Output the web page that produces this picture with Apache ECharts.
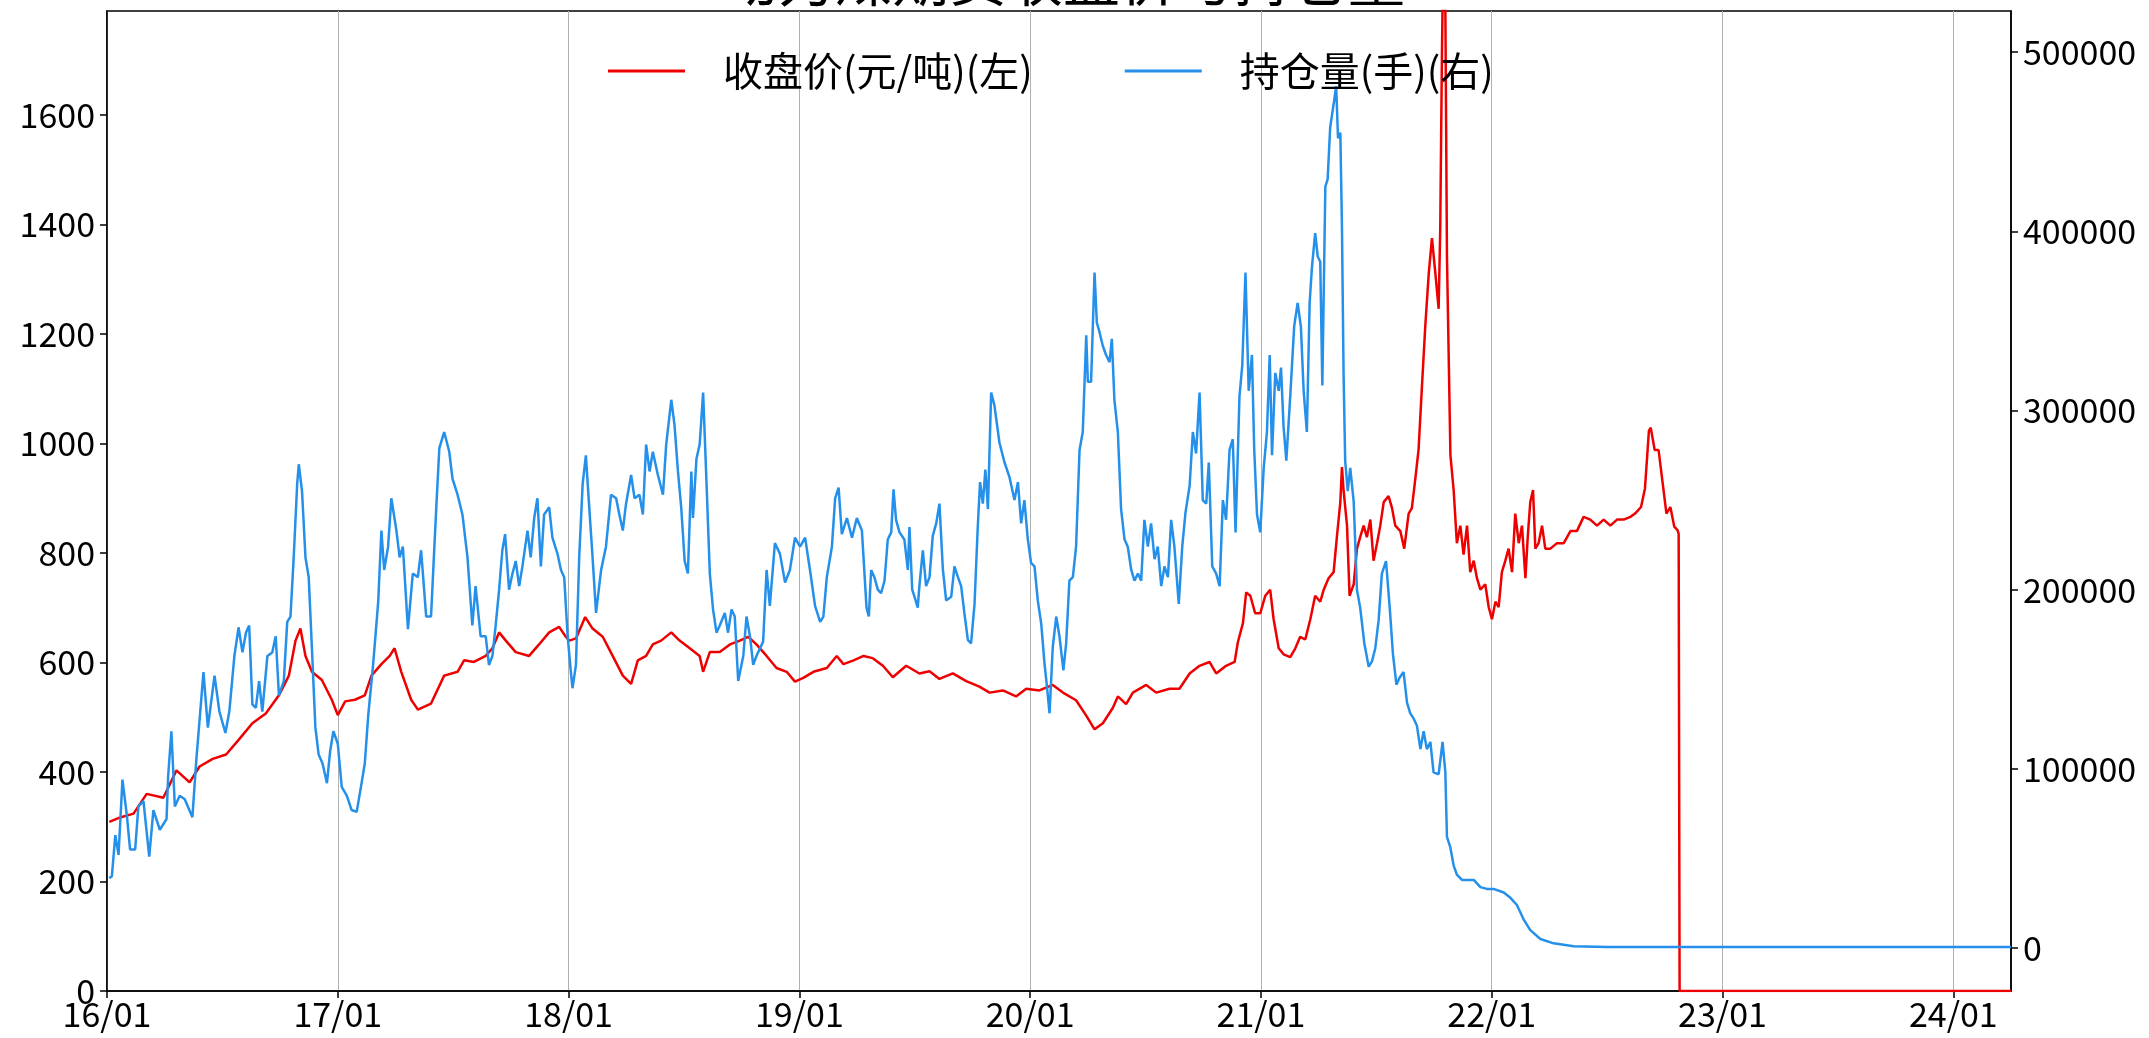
<!DOCTYPE html>
<html><head><meta charset="utf-8">
<script src="https://cdn.jsdelivr.net/npm/echarts@6/dist/echarts.min.js"></script>
<style>html,body{margin:0;padding:0;background:#fff}#c{width:2149px;height:1038px}</style>
</head><body><div id="c"></div>
<script>
const titleText = '动力煤期货收盘价与持仓量';
const seriesNames = ['收盘价(元/吨)(左)', '持仓量(手)(右)'];
const yearTicks = [2016, 2017, 2018, 2019, 2020, 2021, 2022, 2023, 2024];
const leftTicks = [0, 200, 400, 600, 800, 1000, 1200, 1400, 1600];
const rightTicks = [0, 100000, 200000, 300000, 400000, 500000];

// [decimal year, 收盘价 元/吨]
const closePrice = [
[2016.010,309],[2016.057,317],[2016.115,324],[2016.172,360],[2016.244,353],[2016.301,403],[2016.358,381],[2016.401,410],[2016.458,424],[2016.516,432],[2016.573,460],[2016.630,489],[2016.688,507],[2016.745,540],[2016.788,576],[2016.817,640],[2016.838,662],[2016.860,612],[2016.888,583],[2016.931,568],[2016.974,532],[2017.000,504],[2017.032,529],[2017.074,532],[2017.117,540],[2017.146,576],[2017.189,597],[2017.225,612],[2017.246,626],[2017.275,583],[2017.318,532],[2017.347,514],[2017.404,525],[2017.461,576],[2017.519,583],[2017.547,604],[2017.590,601],[2017.641,612],[2017.670,626],[2017.699,655],[2017.728,640],[2017.771,619],[2017.829,612],[2017.872,633],[2017.916,655],[2017.959,665],[2017.988,647],[2018.003,640],[2018.032,644],[2018.072,683],[2018.104,662],[2018.148,647],[2018.191,612],[2018.235,576],[2018.271,561],[2018.300,604],[2018.336,612],[2018.365,633],[2018.401,640],[2018.445,655],[2018.481,640],[2018.525,626],[2018.568,612],[2018.583,583],[2018.612,619],[2018.655,619],[2018.699,633],[2018.742,640],[2018.778,647],[2018.814,633],[2018.858,612],[2018.901,590],[2018.945,583],[2018.981,565],[2019.017,572],[2019.061,583],[2019.119,590],[2019.162,612],[2019.191,597],[2019.235,604],[2019.278,612],[2019.318,608],[2019.362,594],[2019.405,573],[2019.463,594],[2019.520,580],[2019.564,584],[2019.607,570],[2019.665,580],[2019.723,566],[2019.780,556],[2019.824,545],[2019.882,549],[2019.939,538],[2019.983,552],[2020.040,549],[2020.098,559],[2020.142,545],[2020.199,531],[2020.243,503],[2020.279,478],[2020.315,489],[2020.358,517],[2020.380,538],[2020.416,524],[2020.445,545],[2020.503,559],[2020.546,545],[2020.604,552],[2020.647,552],[2020.691,580],[2020.734,594],[2020.777,601],[2020.806,580],[2020.849,594],[2020.886,601],[2020.900,637],[2020.922,672],[2020.936,728],[2020.954,722],[2020.975,690],[2020.997,690],[2021.019,722],[2021.040,733],[2021.055,679],[2021.077,626],[2021.098,615],[2021.127,610],[2021.149,626],[2021.170,647],[2021.192,642],[2021.214,679],[2021.235,722],[2021.257,711],[2021.272,733],[2021.293,754],[2021.315,765],[2021.329,829],[2021.344,893],[2021.351,957],[2021.358,915],[2021.373,850],[2021.384,722],[2021.402,743],[2021.416,808],[2021.430,829],[2021.445,850],[2021.459,829],[2021.474,861],[2021.488,786],[2021.503,818],[2021.517,850],[2021.532,893],[2021.553,904],[2021.568,882],[2021.582,850],[2021.604,840],[2021.621,808],[2021.640,872],[2021.654,882],[2021.669,936],[2021.683,989],[2021.698,1107],[2021.712,1214],[2021.727,1310],[2021.741,1375],[2021.756,1310],[2021.770,1246],[2021.777,1396],[2021.784,1700],[2021.792,1982],[2021.799,1800],[2021.806,1342],[2021.821,979],[2021.835,915],[2021.849,818],[2021.864,850],[2021.878,797],[2021.893,850],[2021.907,765],[2021.922,786],[2021.936,754],[2021.951,733],[2021.972,743],[2021.987,701],[2022.001,679],[2022.016,711],[2022.030,701],[2022.044,765],[2022.059,786],[2022.073,808],[2022.088,765],[2022.102,872],[2022.117,818],[2022.131,850],[2022.146,754],[2022.156,829],[2022.167,893],[2022.179,915],[2022.189,808],[2022.203,818],[2022.218,850],[2022.232,808],[2022.254,808],[2022.283,818],[2022.312,818],[2022.341,840],[2022.369,840],[2022.398,866],[2022.427,861],[2022.456,850],[2022.485,861],[2022.514,850],[2022.543,861],[2022.572,861],[2022.601,866],[2022.621,872],[2022.647,884],[2022.664,918],[2022.681,1023],[2022.689,1029],[2022.706,988],[2022.723,988],[2022.740,930],[2022.757,872],[2022.774,884],[2022.791,848],[2022.805,842],[2022.810,835],[2022.814,0],[2024.250,0]
];

// [decimal year, 持仓量 手]
const openInterest = [
[2016.010,39000],[2016.021,40000],[2016.036,63000],[2016.050,52000],[2016.067,94000],[2016.086,74000],[2016.100,55000],[2016.122,55000],[2016.136,79000],[2016.158,82000],[2016.183,51000],[2016.201,77000],[2016.229,66000],[2016.258,72000],[2016.265,96000],[2016.279,121000],[2016.294,79000],[2016.315,85000],[2016.337,83000],[2016.370,73000],[2016.387,105000],[2016.401,127000],[2016.418,154000],[2016.437,123000],[2016.466,152000],[2016.487,132000],[2016.513,120000],[2016.530,132000],[2016.552,163000],[2016.570,179000],[2016.587,165000],[2016.602,176000],[2016.616,180000],[2016.630,136000],[2016.645,134000],[2016.659,149000],[2016.673,132000],[2016.695,163000],[2016.716,165000],[2016.731,174000],[2016.745,141000],[2016.766,149000],[2016.781,182000],[2016.795,185000],[2016.809,218000],[2016.824,259000],[2016.831,270000],[2016.845,255000],[2016.860,218000],[2016.874,207000],[2016.888,167000],[2016.903,123000],[2016.917,108000],[2016.934,103000],[2016.953,92000],[2016.967,110000],[2016.981,121000],[2017.000,114000],[2017.017,90000],[2017.039,85000],[2017.060,77000],[2017.082,76000],[2017.103,92000],[2017.117,103000],[2017.132,130000],[2017.153,158000],[2017.175,193000],[2017.189,233000],[2017.201,211000],[2017.218,224000],[2017.232,251000],[2017.254,233000],[2017.268,218000],[2017.282,224000],[2017.304,178000],[2017.325,209000],[2017.347,207000],[2017.361,222000],[2017.383,185000],[2017.404,185000],[2017.426,244000],[2017.440,279000],[2017.461,288000],[2017.483,277000],[2017.497,262000],[2017.519,253000],[2017.540,242000],[2017.562,218000],[2017.583,180000],[2017.597,202000],[2017.619,174000],
[2017.641,174000],[2017.655,158000],[2017.670,163000],[2017.684,180000],[2017.699,200000],[2017.713,222000],[2017.725,231000],[2017.742,200000],[2017.757,209000],[2017.771,216000],[2017.786,202000],[2017.800,213000],[2017.822,233000],[2017.836,218000],[2017.851,240000],[2017.865,251000],[2017.880,213000],[2017.894,242000],[2017.916,246000],[2017.930,229000],[2017.952,220000],[2017.967,211000],[2017.981,207000],[2017.996,174000],[2018.010,154000],[2018.017,145000],[2018.032,158000],[2018.046,218000],[2018.061,259000],[2018.075,275000],[2018.087,251000],[2018.104,218000],[2018.119,187000],[2018.141,211000],[2018.162,224000],[2018.184,253000],[2018.206,251000],[2018.220,242000],[2018.235,233000],[2018.249,248000],[2018.271,264000],[2018.286,251000],[2018.307,253000],[2018.322,242000],[2018.336,281000],[2018.351,266000],[2018.365,277000],[2018.387,264000],[2018.409,253000],[2018.423,281000],[2018.445,306000],[2018.459,292000],[2018.474,266000],[2018.488,246000],[2018.503,216000],[2018.517,209000],[2018.532,266000],[2018.539,240000],[2018.554,273000],[2018.568,281000],[2018.583,310000],[2018.597,262000],[2018.612,209000],[2018.626,189000],[2018.641,176000],[2018.655,180000],[2018.677,187000],[2018.691,176000],[2018.706,189000],[2018.720,185000],[2018.735,149000],[2018.757,163000],[2018.771,185000],[2018.786,174000],[2018.800,158000],[2018.814,163000],[2018.843,171000],[2018.858,211000],[2018.872,191000],[2018.894,226000],[2018.916,220000],[2018.938,204000],[2018.959,211000],[2018.981,229000],[2019.003,224000],[2019.025,229000],[2019.046,211000],[2019.068,191000],[2019.090,182000],[2019.104,185000],[2019.119,207000],[2019.141,224000],[2019.155,251000],[2019.170,257000],[2019.184,231000],[2019.206,240000],[2019.228,229000],[2019.249,240000],[2019.271,233000],[2019.291,190000],
[2019.301,185000],[2019.311,211000],[2019.325,207000],[2019.340,200000],[2019.354,198000],[2019.369,205000],[2019.383,228000],[2019.398,232000],[2019.408,256000],[2019.419,239000],[2019.434,232000],[2019.455,228000],[2019.470,211000],[2019.477,235000],[2019.489,200000],[2019.499,196000],[2019.513,190000],[2019.520,202000],[2019.535,222000],[2019.549,202000],[2019.564,207000],[2019.578,230000],[2019.593,237000],[2019.607,248000],[2019.622,211000],[2019.636,194000],[2019.658,196000],[2019.672,213000],[2019.687,207000],[2019.701,202000],[2019.715,187000],[2019.730,172000],[2019.744,170000],[2019.759,192000],[2019.773,235000],[2019.783,260000],[2019.795,248000],[2019.806,267000],[2019.817,245000],[2019.831,310000],[2019.845,303000],[2019.867,282000],[2019.889,271000],[2019.910,263000],[2019.932,250000],[2019.947,260000],[2019.961,237000],[2019.975,250000],[2019.990,228000],[2020.004,215000],[2020.019,213000],[2020.033,194000],[2020.048,181000],[2020.062,159000],[2020.072,147000],[2020.084,131000],[2020.098,168000],[2020.113,185000],[2020.127,174000],[2020.144,155000],[2020.156,170000],[2020.170,205000],[2020.185,207000],[2020.199,224000],[2020.214,278000],[2020.228,288000],[2020.243,342000],[2020.250,316000],[2020.264,316000],[2020.279,377000],[2020.289,349000],[2020.300,344000],[2020.315,336000],[2020.329,331000],[2020.344,327000],[2020.354,340000],[2020.365,306000],[2020.380,288000],[2020.394,245000],[2020.409,228000],[2020.423,224000],[2020.438,211000],[2020.452,205000],[2020.467,209000],[2020.481,205000],[2020.495,239000],[2020.510,224000],[2020.524,237000],[2020.539,217000],[2020.553,224000],[2020.568,202000],[2020.582,213000],[2020.597,207000],[2020.611,239000],[2020.625,224000],[2020.644,192000],[2020.659,224000],[2020.673,243000],[2020.691,258000],[2020.705,288000],[2020.719,276000],[2020.734,310000],[2020.748,250000],[2020.763,248000],[2020.774,271000],[2020.789,213000],[2020.806,209000],[2020.821,202000],[2020.835,250000],[2020.849,239000],[2020.864,278000],[2020.878,284000],[2020.890,232000],[2020.907,308000],[2020.919,325000],[2020.933,377000],
[2020.947,311000],[2020.961,331000],[2020.971,278000],[2020.983,242000],[2020.997,232000],[2021.012,268000],[2021.026,288000],[2021.038,331000],[2021.048,275000],[2021.062,321000],[2021.077,311000],[2021.087,324000],[2021.098,291000],[2021.110,272000],[2021.127,308000],[2021.144,347000],[2021.159,360000],[2021.173,347000],[2021.185,311000],[2021.199,288000],[2021.211,360000],[2021.221,380000],[2021.235,399000],[2021.246,386000],[2021.257,383000],[2021.266,314000],[2021.279,425000],[2021.289,429000],[2021.300,458000],[2021.315,471000],[2021.326,481000],[2021.334,452000],[2021.344,455000],[2021.351,403000],[2021.358,321000],[2021.365,272000],[2021.376,255000],[2021.387,268000],[2021.402,249000],[2021.416,200000],[2021.430,190000],[2021.448,170000],[2021.467,157000],[2021.481,160000],[2021.495,167000],[2021.510,183000],[2021.524,209000],[2021.542,216000],[2021.558,190000],[2021.572,164000],[2021.587,147000],[2021.601,151000],[2021.618,154000],[2021.633,137000],[2021.647,131000],[2021.662,128000],[2021.676,124000],[2021.691,111000],[2021.705,121000],[2021.719,111000],[2021.734,115000],[2021.748,98000],[2021.770,97000],[2021.787,115000],[2021.799,98000],[2021.806,62000],[2021.821,56000],[2021.835,46000],[2021.849,41000],[2021.871,38000],[2021.893,38000],[2021.922,38000],[2021.951,34000],[2021.979,33000],[2022.008,33000],[2022.052,31000],[2022.081,28000],[2022.109,24000],[2022.138,16000],[2022.167,10000],[2022.211,5000],[2022.268,2600],[2022.355,1000],[2022.500,600],[2024.250,500]
];

const chart = echarts.init(document.getElementById('c'), null, {renderer: 'canvas', width: 2149, height: 1038});
const FONT = 'Noto Sans CJK SC';
const axisLabelStyle = {fontFamily: FONT, fontSize: 34, color: '#000'};
const blackLine = {color: '#000', width: 1.5};
const plain = v => String(v);

chart.setOption({
  animation: false,
  backgroundColor: '#fff',
  title: {
    text: titleText, left: 716, top: -54,
    textStyle: {fontFamily: FONT, fontSize: 57, fontWeight: 'normal', color: '#000'}
  },
  legend: {
    data: seriesNames, left: 603, top: 46,
    icon: 'rect', itemWidth: 77, itemHeight: 3, itemGap: 92,
    textStyle: {fontFamily: FONT, fontSize: 40, color: '#000', padding: [0, 0, 0, 33]}
  },
  grid: {left: 107, right: 138, top: 11, bottom: 47, show: true, borderColor: '#000', borderWidth: 1.5, outerBoundsMode: 'none'},
  xAxis: {
    type: 'value', min: 2016, max: 2024.25, interval: 1,
    axisLine: {show: true, lineStyle: blackLine},
    axisTick: {show: true, length: 7, lineStyle: blackLine, customValues: yearTicks},
    axisLabel: Object.assign({margin: 6, customValues: yearTicks,
      formatter: v => String(v).slice(2) + '/01'}, axisLabelStyle),
    splitLine: {show: true, lineStyle: {color: '#b0b0b0', width: 1}}
  },
  yAxis: [
    {
      type: 'value', position: 'left', min: 0, max: 1790,
      axisLine: {show: true, lineStyle: blackLine},
      axisTick: {show: true, length: 7, lineStyle: blackLine, customValues: leftTicks},
      axisLabel: Object.assign({margin: 12, customValues: leftTicks, formatter: plain}, axisLabelStyle),
      splitLine: {show: false}
    },
    {
      type: 'value', position: 'right', min: -24000, max: 523000,
      axisLine: {show: true, lineStyle: blackLine},
      axisTick: {show: true, length: 7, lineStyle: blackLine, customValues: rightTicks},
      axisLabel: Object.assign({margin: 12, customValues: rightTicks, formatter: plain}, axisLabelStyle),
      splitLine: {show: false}
    }
  ],
  series: [
    {
      name: seriesNames[0], type: 'line', yAxisIndex: 0, data: closePrice,
      symbol: 'none', clip: true,
      lineStyle: {color: '#ee0000', width: 2.5}, itemStyle: {color: '#ee0000'}
    },
    {
      name: seriesNames[1], type: 'line', yAxisIndex: 1, data: openInterest,
      symbol: 'none', clip: true,
      lineStyle: {color: '#2590ea', width: 2.5}, itemStyle: {color: '#2590ea'}
    }
  ]
});
</script>
</body></html>
